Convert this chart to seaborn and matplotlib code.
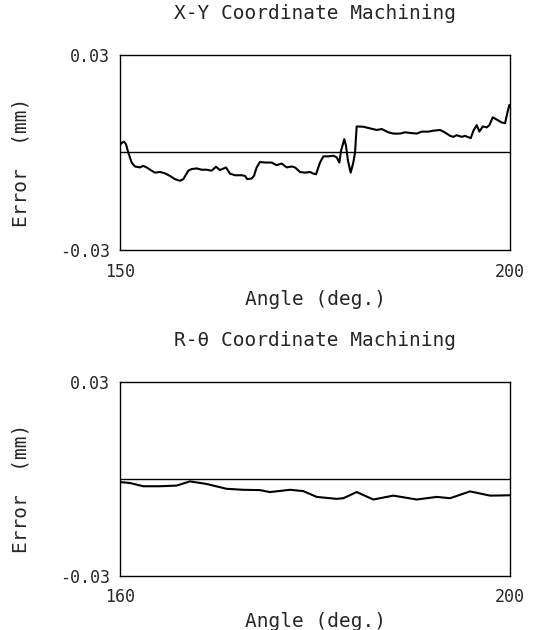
import seaborn as sns
import matplotlib.pyplot as plt

# X-Y coordinate machining error trace
xy_angle = [150.0, 150.21, 150.51, 150.77, 151.07, 151.50, 151.92, 152.56, 152.99, 153.42,
            154.06, 154.49, 155.13, 155.77, 156.41, 157.05, 157.69, 158.12, 158.76, 159.19,
            159.83, 160.47, 161.11, 161.75, 162.31, 162.82, 163.59, 164.10, 164.74, 165.60,
            166.03, 166.32, 166.88, 167.18, 167.52, 167.95, 168.59, 169.44, 170.09, 170.73,
            171.37, 172.01, 172.44, 173.08, 173.72, 174.36, 174.79, 175.13, 175.64, 176.07,
            176.71, 177.35, 177.78, 178.12, 178.33, 178.76, 178.97, 179.23, 179.57, 179.91,
            180.13, 180.34, 181.20, 182.05, 182.91, 183.55, 183.97, 184.40, 185.04, 185.90,
            186.54, 187.18, 188.03, 188.68, 189.53, 190.17, 191.03, 191.45, 191.88, 192.31,
            192.74, 193.16, 193.80, 194.23, 194.96, 195.30, 195.73, 196.07, 196.50, 197.01,
            197.35, 197.78, 198.29, 198.93, 199.36, 199.66, 199.91, 200.0]
xy_error = [0.0022, 0.0029, 0.0033, 0.0026, 0.0000, -0.0031, -0.0043, -0.0046, -0.0041, -0.0046,
            -0.0056, -0.0062, -0.0060, -0.0064, -0.0072, -0.0082, -0.0087, -0.0082, -0.0056, -0.0051,
            -0.0049, -0.0053, -0.0053, -0.0056, -0.0044, -0.0054, -0.0046, -0.0065, -0.0070, -0.0070,
            -0.0072, -0.0082, -0.0080, -0.0072, -0.0046, -0.0029, -0.0031, -0.0031, -0.0039, -0.0034,
            -0.0046, -0.0043, -0.0046, -0.0060, -0.0062, -0.0060, -0.0065, -0.0067, -0.0031, -0.0012,
            -0.0012, -0.0010, -0.0015, -0.0031, 0.0005, 0.0041, 0.0021, -0.0026, -0.0062, -0.0031,
            0.0000, 0.0080, 0.0079, 0.0074, 0.0069, 0.0072, 0.0067, 0.0062, 0.0058, 0.0058,
            0.0062, 0.0060, 0.0058, 0.0064, 0.0064, 0.0067, 0.0069, 0.0064, 0.0058, 0.0051,
            0.0048, 0.0053, 0.0048, 0.0051, 0.0044, 0.0067, 0.0084, 0.0064, 0.0080, 0.0077,
            0.0084, 0.0108, 0.0101, 0.0092, 0.0090, 0.0123, 0.0146, 0.0139]

# R-theta coordinate machining error trace
rt_angle = [160.0, 161.03, 162.39, 164.10, 165.81, 167.18, 168.89, 170.94, 172.65, 174.36,
            175.38, 177.44, 178.80, 180.17, 182.22, 182.91, 184.27, 185.98, 188.03, 190.43,
            192.48, 193.85, 195.90, 197.95, 200.0]
rt_error = [-0.0010, -0.0013, -0.0023, -0.0023, -0.0021, -0.0008, -0.0016, -0.0031, -0.0034, -0.0035,
            -0.0041, -0.0034, -0.0038, -0.0056, -0.0062, -0.0060, -0.0041, -0.0064, -0.0052, -0.0064,
            -0.0056, -0.0060, -0.0039, -0.0052, -0.0051]

panels = [
    ("X-Y Coordinate Machining", xy_angle, xy_error, [150, 200], -0.205),
    ("R-\u03b8 Coordinate Machining", rt_angle, rt_error, [160, 200], -0.185),
]

sns.set_style("white")
plt.rcParams["font.family"] = ["DejaVu Sans Mono", "DejaVu Sans"]

fig = plt.figure(figsize=(5.33, 6.3), dpi=100)
boxes = [[0.225, 0.603, 0.732, 0.310], [0.225, 0.086, 0.732, 0.308]]

for (title, ang, err, xlim, xl_y), box in zip(panels, boxes):
    ax = fig.add_axes(box)
    sns.lineplot(x=ang, y=err, ax=ax, color="black", linewidth=1.5)
    ax.axhline(0, color="black", linewidth=1.0)
    ax.set_xlim(xlim)
    ax.set_ylim(-0.03, 0.03)
    ax.set_xticks(xlim)
    ax.set_xticklabels([str(v) for v in xlim])
    ax.set_yticks([-0.03, 0.03])
    ax.set_yticklabels(["-0.03", "0.03"])
    ax.tick_params(length=0, labelsize=12)
    ax.tick_params(axis="x", pad=9)
    ax.tick_params(axis="y", pad=7)
    for s in ax.spines.values():
        s.set_color("black")
        s.set_linewidth(1.0)
    ax.set_title(title, fontsize=14, pad=26)
    ax.set_xlabel("Angle (deg.)", fontsize=14)
    ax.set_ylabel("Error  (mm)", fontsize=14)
    ax.xaxis.set_label_coords(0.5, xl_y)
    ax.yaxis.set_label_coords(-0.23, 0.45)

fig.savefig("out.png", dpi=100)
